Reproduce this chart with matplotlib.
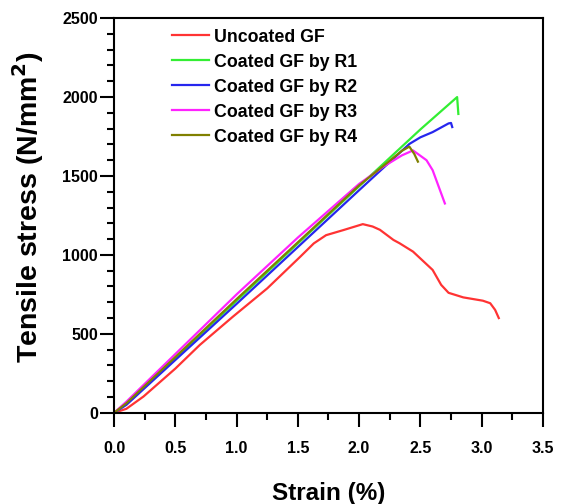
import matplotlib
matplotlib.use("Agg")
import matplotlib.pyplot as plt
from matplotlib.ticker import MultipleLocator

plt.rcParams['font.family'] = ['Liberation Sans', 'DejaVu Sans']
plt.rcParams['font.weight'] = 'bold'

labels = ["Uncoated GF", "Coated GF by R1", "Coated GF by R2", "Coated GF by R3", "Coated GF by R4"]
colors = ["#ff3333", "#33ee33", "#2626ee", "#ff22ff", "#808000"]

red_x = [0, 0.1, 0.24, 0.5, 0.70, 0.97, 1.25, 1.52, 1.63, 1.73, 1.87, 2.03, 2.11, 2.17, 2.28, 2.33, 2.44, 2.60, 2.67, 2.73, 2.85, 3.01, 3.07, 3.11, 3.14]
red_y = [0, 25, 103, 280, 430, 609, 788, 989, 1073, 1125, 1157, 1195, 1180, 1159, 1095, 1074, 1021, 905, 810, 760, 731, 710, 694, 652, 600]

r1_x = [0, 0.1, 1.0, 2.0, 2.5, 2.80, 2.81]
r1_y = [0, 55, 710, 1435, 1795, 2000, 1893]

r2_x = [0, 0.1, 1.0, 2.0, 2.41, 2.5, 2.6, 2.73, 2.75, 2.76]
r2_y = [0, 50, 690, 1410, 1703, 1745, 1778, 1833, 1836, 1810]

r3_x = [0, 0.1, 1.0, 1.5, 2.0, 2.2, 2.35, 2.44, 2.55, 2.60, 2.70]
r3_y = [0, 70, 750, 1110, 1450, 1560, 1631, 1662, 1600, 1537, 1326]

r4_x = [0, 0.1, 1.0, 2.0, 2.35, 2.41, 2.45, 2.48]
r4_y = [0, 60, 720, 1440, 1660, 1686, 1640, 1591]

series = [(red_x, red_y), (r1_x, r1_y), (r2_x, r2_y), (r3_x, r3_y), (r4_x, r4_y)]

fig = plt.figure(figsize=(5.62, 5.04), dpi=100)
ax = fig.add_axes([0.203, 0.181, 0.763, 0.783])

for (xs, ys), c, lab in zip(series, colors, labels):
    ax.plot(xs, ys, color=c, lw=1.6, label=lab)

ax.set_xlim(0, 3.5)
ax.set_ylim(0, 2500)
ax.xaxis.set_major_locator(MultipleLocator(0.5))
ax.xaxis.set_minor_locator(MultipleLocator(0.25))
ax.yaxis.set_major_locator(MultipleLocator(500))
ax.yaxis.set_minor_locator(MultipleLocator(100))
ax.xaxis.set_major_formatter(plt.FuncFormatter(lambda v, p: f"{v:.1f}"))

for s in ax.spines.values():
    s.set_linewidth(1.5)
ax.tick_params(which='major', length=10, width=1.5, labelsize=11.5)
ax.tick_params(which='minor', length=5, width=1.5)
ax.tick_params(axis='x', which='major', pad=10.5)
ax.tick_params(axis='y', which='major', pad=1.5)
for t in ax.get_xticklabels() + ax.get_yticklabels():
    t.set_fontweight('bold')

ax.set_xlabel("Strain (%)", fontsize=17.5, fontweight='bold')
ax.set_ylabel("Tensile stress (N/mm$^\\mathbf{2}$)", fontsize=20.5, fontweight='bold')
ax.xaxis.set_label_coords(0.5, -0.175)
ax.yaxis.set_label_coords(-0.2, 0.52)
ax.yaxis.label.set_verticalalignment('center')

leg = ax.legend(loc='upper left', bbox_to_anchor=(0.105, 1.005), frameon=False,
                prop={'size': 12.8, 'weight': 'bold'}, handlelength=2.1,
                handletextpad=0.3, labelspacing=0.45, borderaxespad=0.3)

fig.savefig("out.png", dpi=100)
